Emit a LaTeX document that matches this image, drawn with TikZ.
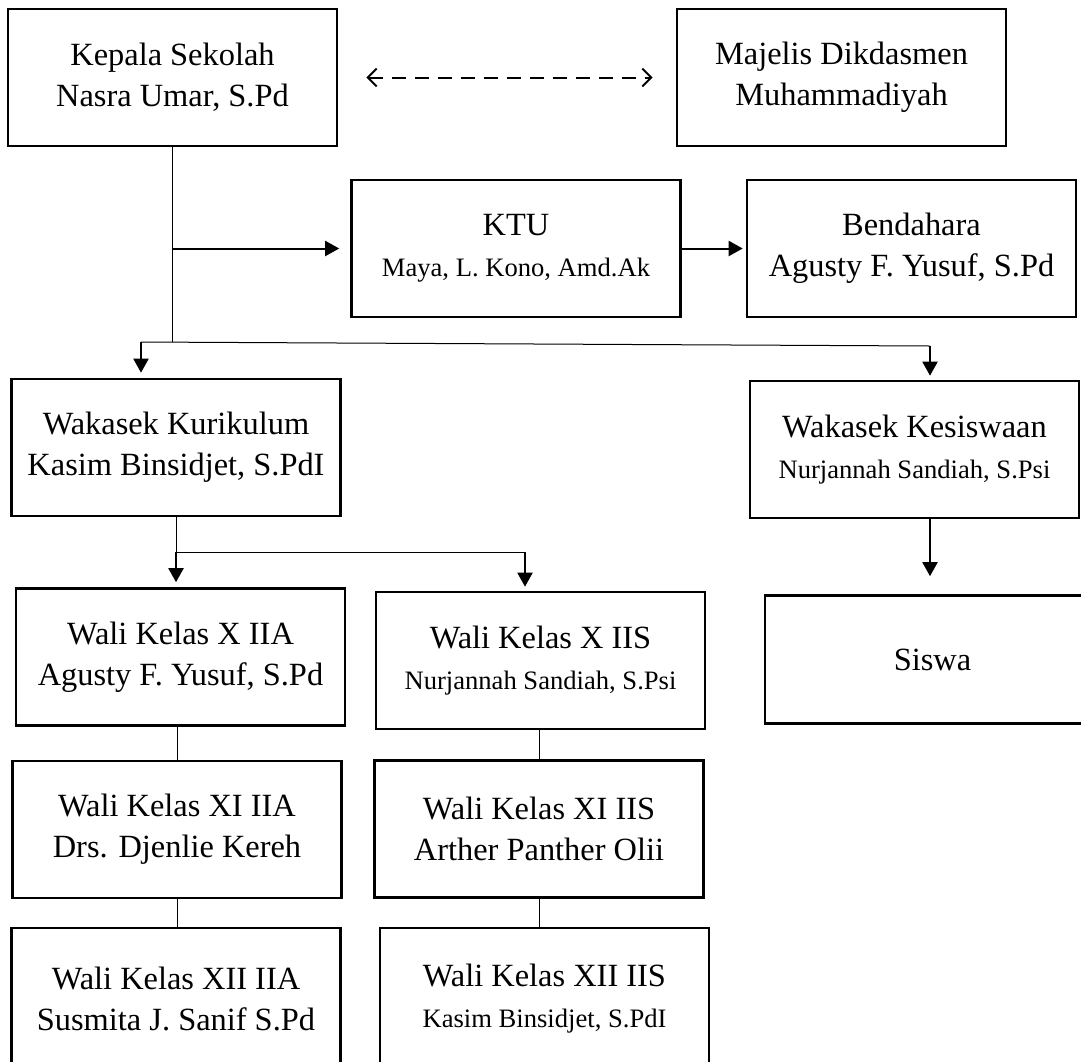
\documentclass[tikz,border=0pt]{standalone}
\usepackage{fontspec}
\setmainfont{Liberation Serif}
\usetikzlibrary{arrows.meta}

\newcommand{\namefont}{\fontsize{13.3}{17}\selectfont}

\tikzset{
  rect/.style={draw,line width=1.3pt,rectangle,inner sep=0pt,align=center,
    minimum width=164.5pt,minimum height=68.5pt,
    font=\fontsize{16.2}{20.5}\selectfont},
  link/.style={line width=0.5pt},
  arrow/.style={line width=1pt,-{Triangle[length=7pt,width=7.5pt]}},
  dasharrow/.style={line width=1pt,dash pattern=on 7pt off 4.5pt,
    {Straight Barb[length=4.5pt,width=9pt]}-{Straight Barb[length=4.5pt,width=9pt]}},
}

\begin{document}
\begin{tikzpicture}[x=0.5pt,y=-0.5pt]
\useasboundingbox (0,0) rectangle (1081,1061);
\clip (0,0) rectangle (1081,1061);

\node[rect](kepala) at (172.5,77.5) {Kepala Sekolah\\Nasra Umar, S.Pd};
\node[rect](majelis) at (841.5,77.5) {Majelis Dikdasmen\\Muhammadiyah};
\node[rect](ktu) at (516,248.5) {KTU\\\namefont Maya, L. Kono, Amd.Ak};
\node[rect](bendahara) at (911.5,248.5) {Bendahara\\Agusty F. Yusuf, S.Pd};
\node[rect](kurikulum) at (176,447.5) {Wakasek Kurikulum\\Kasim Binsidjet, S.PdI};
\node[rect](kesiswaan) at (914.5,449.5) {Wakasek Kesiswaan\\\namefont Nurjannah Sandiah, S.Psi};
\node[rect,minimum width=167.5pt,minimum height=64pt](siswa) at (932.5,659.5) {Siswa};
\node[rect](tenA) at (180.5,657) {Wali Kelas X IIA\\Agusty F. Yusuf, S.Pd};
\node[rect](tenS) at (540.5,660.5) {Wali Kelas X IIS\\\namefont Nurjannah Sandiah, S.Psi};
\node[rect](elevenA) at (177,829.5) {Wali Kelas XI IIA\\Drs. Djenlie Kereh};
\node[rect](elevenS) at (539,829) {Wali Kelas XI IIS\\Arther Panther Olii};
\node[rect,minimum height=71pt](twelveA) at (176,999) {Wali Kelas XII IIA\\Susmita J. Sanif S.Pd};
\node[rect,minimum height=71pt](twelveS) at (544.5,999) {Wali Kelas XII IIS\\\namefont Kasim Binsidjet, S.PdI};

\coordinate (split) at (172.5,342);
\coordinate (left) at (141,342);
\coordinate (right) at (930,346);
\coordinate (split2) at (176,552);
\coordinate (right2) at (525,552);

\draw [dasharrow,shorten <=14pt,shorten >=11.5pt] (kepala.east) -- (majelis.west);

\draw [link] (kepala.south) -- (split);
\draw [arrow,shorten >=5.5pt] (kepala.south |- ktu.west) -- (ktu.west);
\draw [arrow,shorten >=1.5pt] (ktu.east) -- (bendahara.west);

\draw [link] (left) -- (right);
\draw [arrow,shorten >=2.5pt] (left) -- (left |- kurikulum.north);
\draw [arrow,shorten >=2pt] (right) -- (right |- kesiswaan.north);
\draw [arrow,shorten >=9pt] (kesiswaan.south -| right) -- (siswa.north -| right);

\draw [link] (kurikulum.south) -- (split2) -- (right2);
\draw [arrow,shorten >=2.5pt] (split2) -- (split2 |- tenA.north);
\draw [arrow,shorten >=2pt] (right2) -- (right2 |- tenS.north);

\draw [link] (elevenA.north |- tenA.south) -- (elevenA.north);
\draw [link] (elevenA.south) -- (elevenA.south |- twelveA.north);
\draw [link] (elevenS.north |- tenS.south) -- (elevenS.north);
\draw [link] (elevenS.south) -- (elevenS.south |- twelveS.north);

\end{tikzpicture}
\end{document}
